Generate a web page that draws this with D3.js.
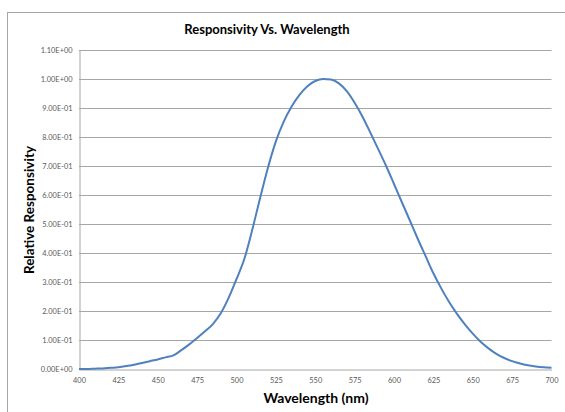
<!DOCTYPE html>
<html><head><meta charset="utf-8">
<script src="https://cdn.jsdelivr.net/npm/d3@7"></script>
<style>
html,body{margin:0;padding:0;background:#fff;}
svg{display:block;font-family:Lato,"Open Sans",sans-serif;}
</style></head>
<body><svg id="c" width="565" height="412"></svg>
<script>
const wavelengths = [400,405,410,415,420,425,430,435,440,445,450,455,460,465,470,475,480,485,490,495,500,505,510,515,520,525,530,535,540,545,550,555,560,565,570,575,580,585,590,595,600,605,610,615,620,625,630,635,640,645,650,655,660,665,670,675,680,685,690,695,700];
const responsivity = [0.000,0.000,0.001,0.002,0.004,0.006,0.010,0.015,0.021,0.027,0.033,0.040,0.047,0.065,0.085,0.107,0.130,0.155,0.192,0.245,0.310,0.380,0.480,0.590,0.695,0.785,0.853,0.905,0.945,0.975,0.993,1.000,0.998,0.985,0.958,0.918,0.870,0.815,0.758,0.700,0.638,0.575,0.513,0.450,0.390,0.330,0.278,0.231,0.190,0.154,0.122,0.094,0.071,0.052,0.038,0.027,0.019,0.013,0.009,0.006,0.004];
const xTicks = [400,425,450,475,500,525,550,575,600,625,650,675,700];
const yTicks = [0,0.1,0.2,0.3,0.4,0.5,0.6,0.7,0.8,0.9,1.0,1.1];
const yTickLabels = ["0.00E+00","1.00E-01","2.00E-01","3.00E-01","4.00E-01","5.00E-01","6.00E-01","7.00E-01","8.00E-01","9.00E-01","1.00E+00","1.10E+00"];
const titleText = "Responsivity Vs. Wavelength";
const xTitle = "Wavelength (nm)";
const yTitle = "Relative Responsivity";

const svg = d3.select("#c");
const L = 79, R = 551.5, T = 50, B = 369;
const x = d3.scaleLinear().domain([400,700]).range([L,R]);
const y = d3.scaleLinear().domain([0,1.1]).range([B,T]);

// outer chart border
svg.append("rect").attr("x",7.5).attr("y",12.5).attr("width",600).attr("height",450)
  .attr("fill","none").attr("stroke","#a6a6a6").attr("stroke-width",1);

// gridlines
svg.append("g").selectAll("line").data(yTicks.filter(d=>d>0)).join("line")
  .attr("x1",L).attr("x2",R).attr("y1",d=>Math.round(y(d))+0.5).attr("y2",d=>Math.round(y(d))+0.5)
  .attr("stroke","#a6a6a6").attr("stroke-width",1);

// y axis
const yAxis = d3.axisLeft(y).tickValues(yTicks).tickSize(0).tickPadding(7)
  .tickFormat((d,i)=>yTickLabels[i]);
const gy = svg.append("g").attr("transform",`translate(${L+0.5},0)`).call(yAxis);
gy.select(".domain").attr("stroke","#a6a6a6");
gy.selectAll("text").attr("font-size","7.4px").attr("fill","#595959").attr("font-family","Lato,sans-serif");

// x axis
const xAxis = d3.axisBottom(x).tickValues(xTicks).tickSize(0).tickPadding(8).tickFormat(d3.format("d"));
const gx = svg.append("g").attr("transform",`translate(0,${B+0.5})`).call(xAxis);
gx.select(".domain").attr("stroke","#a6a6a6");
gx.selectAll("text").attr("font-size","7.4px").attr("fill","#595959").attr("font-family","Lato,sans-serif");

// line
const data = wavelengths.map((w,i)=>({w, v:responsivity[i]}));
const line = d3.line().x(d=>x(d.w)).y(d=>y(d.v)).curve(d3.curveMonotoneX);
svg.append("path").datum(data).attr("d",line).attr("fill","none")
  .attr("stroke","#4f81bd").attr("stroke-width",2);

// titles
svg.append("text").attr("x",267).attr("y",34).attr("text-anchor","middle")
  .attr("font-size","13px").attr("font-weight","bold").attr("fill","#000").text(titleText);
svg.append("text").attr("x",316).attr("y",403).attr("text-anchor","middle")
  .attr("font-size","14px").attr("font-weight","bold").attr("fill","#000").text(xTitle);
svg.append("text").attr("transform","translate(34,210) rotate(-90)").attr("text-anchor","middle")
  .attr("font-size","13.5px").attr("font-weight","bold").attr("fill","#000").text(yTitle);
</script></body></html>
